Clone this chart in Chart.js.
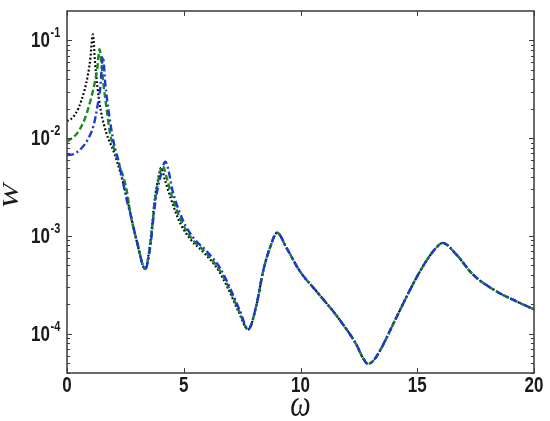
<!DOCTYPE html>
<html>
<head>
<meta charset="utf-8">
<script src="https://cdn.jsdelivr.net/npm/chart.js@4"></script>
<style>
  html, body { margin: 0; padding: 0; background: #fff; }
  #wrap { width: 550px; height: 421px; }
</style>
</head>
<body>
<div id="wrap"><canvas id="chart"></canvas></div>
<script>
// black dotted curve, up to the common tail
const blackOmega = [0, 0.25, 0.5, 0.75, 0.9, 1.0, 1.11, 1.2, 1.3, 1.45, 1.7, 2.0, 2.3, 2.58,
  2.71, 2.99, 3.35, 3.56, 3.77, 3.9, 4.03, 4.2, 4.45, 4.85, 5.3, 5.85, 6.45, 6.9, 7.35];
const blackW = [0.015, 0.0163, 0.0205, 0.031, 0.045, 0.065, 0.115, 0.06, 0.034, 0.019, 0.011, 0.0073, 0.0043, 0.0024,
  1.7e-3, 8.8e-4, 4.6e-4, 8.5e-4, 2.5e-3, 3.8e-3, 4.98e-3, 3.7e-3, 2.4e-3, 1.35e-3, 9.2e-4, 6.8e-4, 4.6e-4, 2.9e-4, 1.68e-4];

// green dashed curve
const greenOmega = [0, 0.43, 0.75, 1.0, 1.2, 1.3, 1.39, 1.56, 1.71, 1.85, 2.14, 2.56,
  2.71, 2.99, 3.35, 3.56, 3.77, 3.95, 4.1, 4.3, 4.5, 4.92, 5.36, 5.93, 6.5, 6.95, 7.38];
const greenW = [0.0092, 0.0112, 0.0155, 0.024, 0.038, 0.052, 0.081, 0.0357, 0.0189, 0.011, 0.0063, 0.0029,
  1.72e-3, 8.9e-4, 4.6e-4, 8.0e-4, 2.3e-3, 4.1e-3, 5.19e-3, 3.7e-3, 2.5e-3, 1.38e-3, 9.3e-4, 6.8e-4, 4.6e-4, 2.9e-4, 1.68e-4];

// blue dash-dot curve
const blueOmega = [0, 0.3, 0.6, 0.9, 1.14, 1.3, 1.42, 1.54, 1.64, 1.78, 1.99, 2.21, 2.58,
  2.71, 2.99, 3.35, 3.56, 3.77, 3.99, 4.21, 4.56, 4.98, 5.41, 5.98, 6.55, 6.98, 7.41];
const blueW = [0.0067, 0.0069, 0.0078, 0.0098, 0.0135, 0.021, 0.032, 0.068, 0.036, 0.019, 0.0093, 0.0058, 0.00222,
  1.71e-3, 8.87e-4, 4.6e-4, 7.57e-4, 2.12e-3, 3.94e-3, 5.74e-3, 2.66e-3, 1.42e-3, 9.6e-4, 7.0e-4, 4.73e-4, 2.95e-4, 1.71e-4];

// part where the three curves lie on top of each other
const tailOmega = [7.76, 8.12, 8.4, 8.69, 9.0, 9.4, 9.97, 10.68, 11.39, 11.82, 12.39, 12.67, 12.89, 13.1, 13.39,
  14.1, 14.81, 15.38, 15.81, 16.09, 16.67, 17.38, 18.38, 19.23, 20];
const tailW = [1.11e-4, 2.0e-4, 4.38e-4, 7.57e-4, 1.08e-3, 7.57e-4, 4.38e-4, 2.73e-4, 1.71e-4, 1.25e-4, 7.8e-5, 5.7e-5, 4.93e-5, 5.26e-5, 6.65e-5,
  1.46e-4, 3.2e-4, 5.53e-4, 7.57e-4, 8.5e-4, 6.49e-4, 4.05e-4, 2.73e-4, 2.16e-4, 1.78e-4];

const xTicks = [0, 5, 10, 15, 20];
const yDecades = [-1, -2, -3, -4];

function toPoints(xs, ys) {
  const pts = xs.map((x, i) => ({ x: x, y: ys[i] }));
  return pts.concat(tailOmega.map((x, i) => ({ x: x, y: tailW[i] })));
}

// stretched text, the reference picture is a bit taller than wide
function drawText(ctx, text, x, y, font, align) {
  ctx.save();
  ctx.translate(x, y);
  ctx.scale(1, 1.3);
  ctx.font = font;
  ctx.textAlign = align;
  ctx.textBaseline = 'middle';
  ctx.fillText(text, 0, 0);
  ctx.restore();
}

const framePlugin = {
  id: 'frame',
  afterDraw(chart) {
    const ctx = chart.ctx;
    const { left, right, top, bottom } = chart.chartArea;
    const xs = chart.scales.x, ys = chart.scales.y;
    ctx.save();
    ctx.strokeStyle = '#3a3a3a';
    ctx.lineWidth = 1.5;
    ctx.strokeRect(left, top, right - left, bottom - top);

    // inside ticks
    ctx.lineWidth = 1;
    ctx.beginPath();
    xTicks.forEach(v => {
      const px = Math.round(xs.getPixelForValue(v)) + 0.5;
      ctx.moveTo(px, bottom); ctx.lineTo(px, bottom - 5);
      ctx.moveTo(px, top); ctx.lineTo(px, top + 5);
    });
    for (let d = -5; d <= 0; d++) {
      for (let m = 1; m <= 9; m++) {
        const v = m * Math.pow(10, d);
        if (v < ys.min || v > ys.max) continue;
        const py = Math.round(ys.getPixelForValue(v)) + 0.5;
        const len = m === 1 ? 5 : 3;
        ctx.moveTo(left, py); ctx.lineTo(left + len, py);
        ctx.moveTo(right, py); ctx.lineTo(right - len, py);
      }
    }
    ctx.stroke();

    // tick labels
    ctx.fillStyle = '#1a1a1a';
    xTicks.forEach(v => {
      drawText(ctx, String(v), xs.getPixelForValue(v), 386, 'bold 17px "Liberation Sans", Arial, sans-serif', 'center');
    });
    yDecades.forEach(d => {
      const py = ys.getPixelForValue(Math.pow(10, d));
      drawText(ctx, '10', 50, py + 1, 'bold 17px "Liberation Sans", Arial, sans-serif', 'right');
      drawText(ctx, String(d), 50.5, py - 7, 'bold 11px "Liberation Sans", Arial, sans-serif', 'left');
    });

    // axis titles
    drawText(ctx, 'ω', (left + right) / 2, 406, 'italic 29px "Liberation Serif", "Times New Roman", serif', 'center');
    ctx.save();
    ctx.translate(12, (top + bottom) / 2 + 4);
    ctx.rotate(-Math.PI / 2);
    ctx.scale(1.3, 1);
    ctx.font = 'italic 23px "Liberation Serif", "Times New Roman", serif';
    ctx.textAlign = 'center';
    ctx.textBaseline = 'middle';
    ctx.fillText('W', 0, 0);
    ctx.restore();

    ctx.restore();
  }
};

new Chart(document.getElementById('chart'), {
  type: 'line',
  data: {
    datasets: [
      {
        label: 'blue',
        data: toPoints(blueOmega, blueW),
        borderColor: '#1f35d8',
        borderWidth: 2.4,
        borderDash: [7, 3, 2, 3]
      },
      {
        label: 'green',
        data: toPoints(greenOmega, greenW),
        borderColor: '#1a8a1a',
        borderWidth: 2.4,
        borderDash: [6, 3]
      },
      {
        label: 'black',
        data: toPoints(blackOmega, blackW),
        borderColor: '#000000',
        borderWidth: 2.2,
        borderDash: [1.8, 2.2]
      }
    ]
  },
  options: {
    responsive: true,
    maintainAspectRatio: false,
    animation: false,
    parsing: false,
    layout: { padding: { top: 11, right: 16, left: 0, bottom: 0 } },
    elements: {
      point: { radius: 0 },
      line: { cubicInterpolationMode: 'monotone', fill: false }
    },
    plugins: { legend: { display: false }, tooltip: { enabled: false } },
    scales: {
      x: {
        type: 'linear', min: 0, max: 20,
        grid: { display: false }, border: { display: false },
        ticks: { display: false },
        afterFit: s => { s.height = 48; }
      },
      y: {
        type: 'logarithmic', min: 3.98e-5, max: 0.1995,
        grid: { display: false }, border: { display: false },
        ticks: { display: false },
        afterFit: s => { s.width = 67; }
      }
    }
  },
  plugins: [framePlugin]
});
</script>
</body>
</html>
